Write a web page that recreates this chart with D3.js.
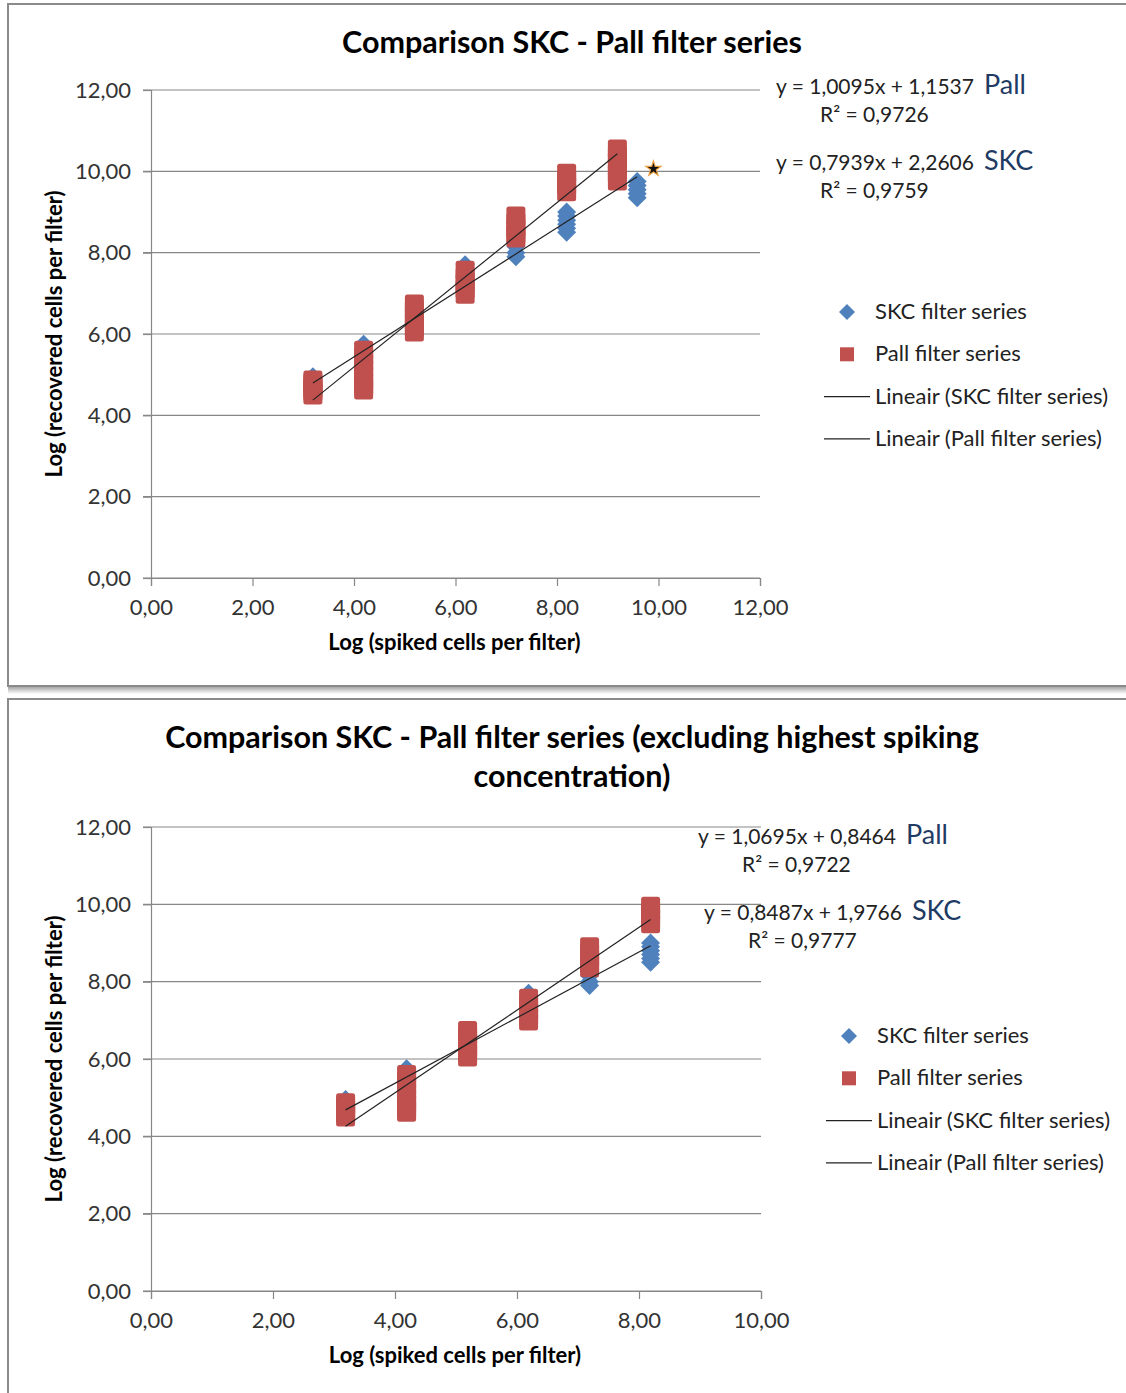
<!DOCTYPE html>
<html lang="en">
<head>
<meta charset="UTF-8">
<title>Comparison SKC - Pall filter series</title>
<style>
  body { margin: 0; background: #fff; }
  svg { display: block; font-family: Lato, "Open Sans", sans-serif; }
</style>
</head>
<body>
<div id="chart"></div>
<script src="https://d3js.org/d3.v7.min.js"></script>
<script>
// spiking levels (log cells per filter) and replicate results
const skcX = [3.19, 4.19, 5.19, 6.19, 7.19, 8.19, 9.58];
const skcY = [
  [4.95, 4.85, 4.75, 4.65, 4.55],
  [5.75, 5.45, 5.15, 4.9],
  [6.65, 6.4, 6.2],
  [7.7, 7.45, 7.25],
  [8.15, 8.0, 7.9],
  [9.0, 8.9, 8.8, 8.7, 8.6, 8.5],
  [9.75, 9.65, 9.55, 9.45, 9.35]
];
const pallX = [3.19, 4.19, 5.19, 6.19, 7.19, 8.19, 9.19];
const pallY = [
  [4.87, 4.8, 4.72, 4.65, 4.58, 4.5],
  [5.6, 5.45, 5.3, 5.15, 5.0, 4.85, 4.7, 4.62],
  [6.74, 6.6, 6.45, 6.3, 6.15, 6.05],
  [7.57, 7.4, 7.25, 7.1, 6.98],
  [8.9, 8.75, 8.6, 8.45, 8.36],
  [9.95, 9.8, 9.65, 9.5],
  [10.55, 10.4, 10.25, 10.1, 9.95, 9.76]
];
const strayPoint = [9.9, 10.06];

// trendline coefficients [slope, intercept, R2] as printed in the charts
const fitAll = { pall: [1.0095, 1.1537, 0.9726], skc: [0.7939, 2.2606, 0.9759] };
const fitExcl = { pall: [1.0695, 0.8464, 0.9722], skc: [0.8487, 1.9766, 0.9777] };

const legendLabels = ["SKC filter series", "Pall filter series", "Lineair (SKC filter series)", "Lineair (Pall filter series)"];

const blue = "#4f81bd", red = "#c0504d", gridCol = "#878787";
const commaFmt = v => d3.format(".2f")(v).replace(".", ",");
const coefFmt = v => d3.format(".4f")(v).replace(".", ",");

const svg = d3.select("#chart").append("svg")
  .attr("width", 1126).attr("height", 1393);

const defs = svg.append("defs");
const shadow = defs.append("linearGradient").attr("id", "shadow")
  .attr("x1", 0).attr("y1", 0).attr("x2", 0).attr("y2", 1);
shadow.append("stop").attr("offset", "0%").attr("stop-color", "#9a9a9a");
shadow.append("stop").attr("offset", "100%").attr("stop-color", "#ffffff");

function flatten(xs, ys, skipLast) {
  const out = [];
  const n = skipLast ? xs.length - 1 : xs.length;
  for (let i = 0; i < n; i++) ys[i].forEach(v => out.push([xs[i], v]));
  return out;
}

function diamond(r) {
  return `M0,${-r}L${r},0L0,${r}L${-r},0Z`;
}

function drawChart(cfg) {
  const g = svg.append("g");

  // panel frame
  g.append("rect").attr("x", 8).attr("y", cfg.panel[0] + cfg.panel[1]).attr("width", 1130).attr("height", 8)
    .attr("fill", "url(#shadow)");
  g.append("rect").attr("x", 8).attr("y", cfg.panel[0]).attr("width", 1130).attr("height", cfg.panel[1])
    .attr("fill", "#fff").attr("stroke", "#8a8a8a").attr("stroke-width", 2);

  const x = d3.scaleLinear().domain([0, cfg.xMax]).range([151, cfg.right]);
  const y = d3.scaleLinear().domain([0, 12]).range([cfg.bottom, cfg.top]);

  // title
  const title = g.append("text").attr("x", 571).attr("text-anchor", "middle")
    .attr("font-size", 30.5).attr("font-weight", "bold").attr("fill", "#000");
  cfg.title.forEach((t, i) => title.append("tspan").attr("x", 572).attr("y", cfg.titleY + i * 39).text(t));

  // gridlines
  g.append("g").selectAll("line").data(y.ticks(6)).join("line")
    .attr("x1", 143).attr("x2", cfg.right)
    .attr("y1", d => y(d)).attr("y2", d => y(d))
    .attr("stroke", gridCol).attr("stroke-width", 1.2);

  // axes
  const yAxis = g.append("g").attr("transform", "translate(151,0)")
    .call(d3.axisLeft(y).ticks(6).tickFormat(commaFmt).tickSize(8).tickPadding(12));
  const xAxis = g.append("g").attr("transform", `translate(0,${cfg.bottom})`)
    .call(d3.axisBottom(x).ticks(cfg.xMax / 2).tickFormat(commaFmt).tickSize(8).tickPadding(10));
  [xAxis, yAxis].forEach(a => {
    a.select(".domain").attr("stroke", gridCol).attr("stroke-width", 1.2);
    a.selectAll(".tick line").attr("stroke", gridCol).attr("stroke-width", 1.2);
    a.selectAll("text").attr("font-size", 22).attr("fill", "#333").attr("font-family", "Lato, sans-serif");
  });
  xAxis.selectAll("text").attr("dy", "0.85em");

  // axis titles
  g.append("text").attr("x", (151 + cfg.right) / 2 - 1).attr("y", cfg.bottom + 72)
    .attr("text-anchor", "middle").attr("font-size", 22).attr("font-weight", "bold")
    .text("Log (spiked cells per filter)");
  g.append("text").attr("transform", `translate(62,${(cfg.top + cfg.bottom) / 2}) rotate(-90)`)
    .attr("text-anchor", "middle").attr("font-size", 22).attr("font-weight", "bold")
    .text("Log (recovered cells per filter)");

  // markers
  const skcPts = flatten(skcX, skcY, cfg.exclude);
  const pallPts = flatten(pallX, pallY, cfg.exclude);
  g.append("g").selectAll("path").data(skcPts).join("path")
    .attr("d", diamond(9.5))
    .attr("transform", d => `translate(${x(d[0])},${y(d[1])})`)
    .attr("fill", blue);
  g.append("g").selectAll("rect").data(pallPts).join("rect")
    .attr("x", d => x(d[0]) - 9.5).attr("y", d => y(d[1]) - 9.5)
    .attr("width", 19).attr("height", 19).attr("rx", 2.5)
    .attr("fill", red);
  if (!cfg.exclude) {
    g.append("path")
      .attr("d", d3.symbol(d3.symbolStar, 70)())
      .attr("transform", `translate(${x(strayPoint[0])},${y(strayPoint[1])})`)
      .attr("fill", "#111").attr("stroke", "#e8a040").attr("stroke-width", 1.2);
  }

  // trendlines
  const line = d3.line().x(d => x(d[0])).y(d => y(d[1]));
  [[cfg.fit.skc, skcPts], [cfg.fit.pall, pallPts]].forEach(([f, pts]) => {
    const ext = d3.extent(pts, d => d[0]);
    g.append("path").datum(ext.map(v => [v, f[0] * v + f[1]]))
      .attr("d", line).attr("fill", "none").attr("stroke", "#222").attr("stroke-width", 1.2);
  });

  // equation labels
  [["pall", "Pall"], ["skc", "SKC"]].forEach(([k, name], i) => {
    const f = cfg.fit[k];
    const ey = cfg.eqY + i * 76;
    const ex = cfg.eqX[i];
    const t = g.append("text").attr("x", ex).attr("y", ey).attr("font-size", 21).attr("fill", "#222");
    t.append("tspan").text(`y = ${coefFmt(f[0])}x + ${coefFmt(f[1])}`);
    t.append("tspan").attr("dx", 10).attr("font-size", 27).attr("fill", "#1f3b64").text(name);
    g.append("text").attr("x", ex + 44).attr("y", ey + 28).attr("font-size", 21).attr("fill", "#222")
      .text(`R² = ${coefFmt(f[2])}`);
  });

  // legend
  const lg = g.append("g").attr("transform", `translate(${cfg.legX},${cfg.legY})`);
  legendLabels.forEach((lab, i) => {
    const row = lg.append("g").attr("transform", `translate(0,${i * 42.3})`);
    if (i === 0) row.append("path").attr("d", diamond(8)).attr("transform", "translate(23,0)").attr("fill", blue);
    else if (i === 1) row.append("rect").attr("x", 16).attr("y", -7).attr("width", 14).attr("height", 14).attr("fill", red);
    else row.append("line").attr("x1", 0).attr("x2", 46).attr("y1", 0).attr("y2", 0).attr("stroke", "#222").attr("stroke-width", 1.2);
    row.append("text").attr("x", 51).attr("y", 7).attr("font-size", 22).attr("fill", "#222").text(lab);
  });
}

drawChart({
  panel: [4, 682], title: ["Comparison SKC - Pall filter series"], titleY: 53,
  xMax: 12, right: 760, top: 90, bottom: 578, exclude: false, fit: fitAll,
  eqX: [776, 776], eqY: 94, legX: 824, legY: 312
});
drawChart({
  panel: [699, 720], title: ["Comparison SKC - Pall filter series (excluding highest spiking", "concentration)"], titleY: 748,
  xMax: 10, right: 761, top: 827, bottom: 1291, exclude: true, fit: fitExcl,
  eqX: [698, 704], eqY: 844, legX: 826, legY: 1036
});
</script>
</body>
</html>
